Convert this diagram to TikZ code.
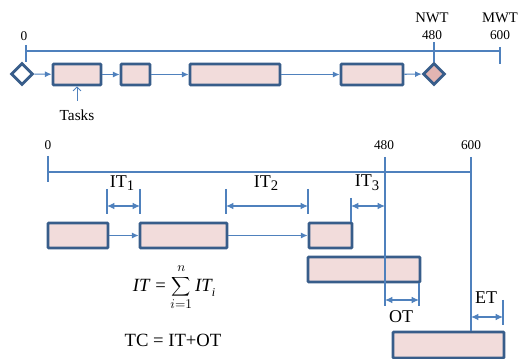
\documentclass[tikz,border=0pt]{standalone}
\usepackage{fontspec}
\setmainfont{Liberation Serif}
\usetikzlibrary{arrows.meta,shapes.geometric,fit}
\definecolor{lineblue}{HTML}{4F81BD}
\definecolor{boxborder}{HTML}{385D8A}
\definecolor{boxfill}{HTML}{F2DCDB}
\definecolor{endfill}{HTML}{E2B5B2}
\tikzset{
  task/.style={draw=boxborder, fill=boxfill, line width=2.1pt, inner sep=0pt, rounded corners=0.6pt},
  gate/.style={diamond, draw=boxborder, line width=2.1pt, inner sep=0pt, minimum size=16.5pt, aspect=1},
  conn/.style={draw=lineblue, line width=0.8pt},
  flow/.style={conn, -{Latex[length=5pt,width=4.5pt]}},
  dim/.style={conn, {Latex[length=5.5pt,width=5pt]}-{Latex[length=5.5pt,width=5pt]}},
  lbl/.style={inner sep=0pt, font=\fontsize{10}{12}\selectfont},
  big/.style={inner sep=0pt, font=\fontsize{13.5}{16}\selectfont},
}
\begin{document}
\begin{tikzpicture}[x=0.75pt,y=-0.75pt]
\useasboundingbox (0,0) rectangle (528,359);
% ---------- top chart ----------
\node[gate, fill=white] (d1) at (22,74) {};
\node[task, fit={(53,64)(101,85)}] (b1) {};
\node[task, fit={(121,64)(150,85)}] (b2) {};
\node[task, fit={(190,64)(280,85)}] (b3) {};
\node[task, fit={(341,64)(403,85)}] (b4) {};
\node[gate, fill=endfill] (d2) at (434,74) {};
\draw[flow] (d1) -- (b1);
\draw[flow] (b1) -- (b2);
\draw[flow] (b2) -- (b3);
\draw[flow] (b3) -- (b4);
\draw[flow] (b4) -- (d2);
% top axis
\coordinate (ta0) at (26,51);
\coordinate (ta1) at (500,51);
\draw[conn] (ta0) -- (ta1);
\coordinate (tt0) at (26,45);
\draw[conn] (tt0) -- (d1.north -| tt0);
\coordinate (tt480) at (d2.north);
\draw[conn] (tt480) -- ++(0,-20);
\coordinate (tt600a) at (500,47);
\coordinate (tt600b) at (500,64);
\draw[conn] (tt600a) -- (tt600b);
\node[lbl] (l0) at (24,36) {0};
\node[lbl] (l480) at (432,35) {480};
\node[lbl, font=\fontsize{11}{13}\selectfont] (lnwt) at (432,18) {NWT};
\node[lbl] (l600) at (500,35) {600};
\node[lbl, font=\fontsize{11}{13}\selectfont] (lmwt) at (500,18) {MWT};
\node[lbl, font=\fontsize{11.5}{13}\selectfont] (tasks) at (77,115) {Tasks};
\coordinate (tasksarr) at (77,101);
\draw[conn, line width=0.6pt, -{Straight Barb[length=3pt,width=6pt]}] (tasksarr) -- (b1.south);
% ---------- bottom chart ----------
\node[task, fit={(48,223)(108,248)}] (A) {};
\node[task, fit={(140,223)(227,248)}] (B) {};
\node[task, fit={(309,223)(352,248)}] (C) {};
\node[task, fit={(308,257)(420,282)}] (D) {};
\node[task, fit={(393,332)(504,358)}] (E) {};
\draw[flow] (A) -- (B);
\draw[flow] (B) -- (C);
% bottom axis
\coordinate (ba0) at (48,172);
\coordinate (ba1) at (471,172);
\draw[conn] (ba0) -- (ba1);
\coordinate (bt0a) at (48,156);
\coordinate (bt0b) at (48,182);
\draw[conn] (bt0a) -- (bt0b);
\coordinate (bt480a) at (385,157);
\coordinate (bt480b) at (385,306);
\draw[conn] (bt480a) -- (bt480b);
\coordinate (bt600a) at (471,157);
\draw[conn] (bt600a) -- (bt600a |- E.north);
\node[lbl] (m0) at (48,145) {0};
\node[lbl] (m480) at (384,145) {480};
\node[lbl] (m600) at (471,145) {600};
% IT1
\coordinate (i1a) at (107,189); \coordinate (i1b) at (107,214);
\coordinate (i1c) at (140,189); \coordinate (i1d) at (140,214);
\draw[conn] (i1a) -- (i1b); \draw[conn] (i1c) -- (i1d);
\coordinate (i1l) at (107,206); \coordinate (i1r) at (140,206);
\draw[dim] (i1l) -- (i1r);
\node[big] (lit1) at (122,183) {IT\raisebox{-0.45ex}{\fontsize{11}{12}\selectfont 1}};
% IT2
\coordinate (i2a) at (226,189); \coordinate (i2b) at (226,214);
\coordinate (i2c) at (308,189); \coordinate (i2d) at (308,214);
\draw[conn] (i2a) -- (i2b); \draw[conn] (i2c) -- (i2d);
\coordinate (i2l) at (226,206); \coordinate (i2r) at (308,206);
\draw[dim] (i2l) -- (i2r);
\node[big] (lit2) at (266,183) {IT\raisebox{-0.45ex}{\fontsize{11}{12}\selectfont 2}};
% IT3
\coordinate (i3a) at (351,198);
\draw[conn] (i3a) -- (i3a |- C.north);
\coordinate (i3l) at (351,206); \coordinate (i3r) at (385,206);
\draw[dim] (i3l) -- (i3r);
\node[big] (lit3) at (367,183) {IT\raisebox{-0.45ex}{\fontsize{11}{12}\selectfont 3}};
% OT
\coordinate (ota) at (419,306);
\draw[conn] (ota |- D.south) -- (ota);
\coordinate (otl) at (385,300); \coordinate (otr) at (419,300);
\draw[dim] (otl) -- (otr);
\node[big] (lot) at (401,317) {OT};
% ET
\coordinate (eta) at (503,300); \coordinate (etb) at (503,325);
\draw[conn] (eta) -- (etb);
\coordinate (etl) at (471,317); \coordinate (etr) at (503,317);
\draw[dim] (etl) -- (etr);
\node[big] (let) at (486,298) {ET};
% formulas
\node[inner sep=0pt, font=\fontsize{14}{16}\selectfont] (f1) at (174,287)
  {\itshape IT\/ \upshape= $\displaystyle\sum_{i=1}^{\raisebox{2pt}{$\scriptstyle n$}}$\,\itshape IT\raisebox{-0.5ex}{\fontsize{9}{10}\selectfont i}};
\node[big, font=\fontsize{14}{16}\selectfont] (f2) at (173,340) {TC = IT+OT};
\end{tikzpicture}
\end{document}
